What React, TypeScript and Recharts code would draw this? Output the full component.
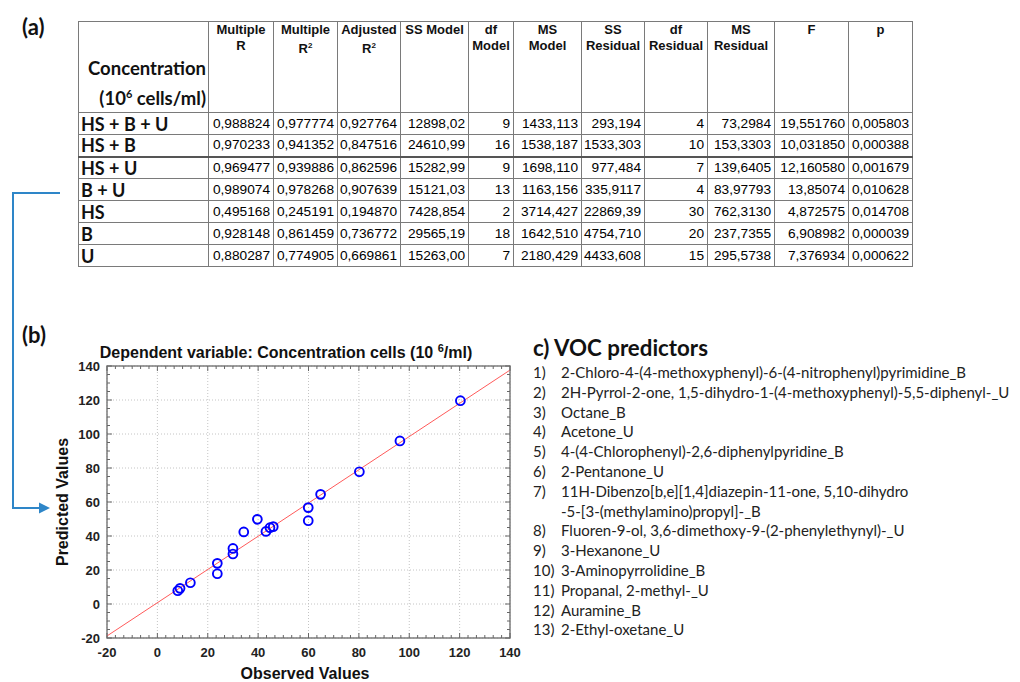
import { ScatterChart, Scatter, XAxis, YAxis, CartesianGrid, ReferenceArea } from 'recharts';

// table (a)
const rowLabels = ['HS + B + U', 'HS + B', 'HS + U', 'B + U', 'HS', 'B', 'U'];
const multipleR = ['0,988824', '0,970233', '0,969477', '0,989074', '0,495168', '0,928148', '0,880287'];
const multipleR2 = ['0,977774', '0,941352', '0,939886', '0,978268', '0,245191', '0,861459', '0,774905'];
const adjustedR2 = ['0,927764', '0,847516', '0,862596', '0,907639', '0,194870', '0,736772', '0,669861'];
const ssModel = ['12898,02', '24610,99', '15282,99', '15121,03', '7428,854', '29565,19', '15263,00'];
const dfModel = ['9', '16', '9', '13', '2', '18', '7'];
const msModel = ['1433,113', '1538,187', '1698,110', '1163,156', '3714,427', '1642,510', '2180,429'];
const ssResidual = ['293,194', '1533,303', '977,484', '335,9117', '22869,39', '4754,710', '4433,608'];
const dfResidual = ['4', '10', '7', '4', '30', '20', '15'];
const msResidual = ['73,2984', '153,3303', '139,6405', '83,97793', '762,3130', '237,7355', '295,5738'];
const fValues = ['19,551760', '10,031850', '12,160580', '13,85074', '4,872575', '6,908982', '7,376934'];
const pValues = ['0,005803', '0,000388', '0,001679', '0,010628', '0,014708', '0,000039', '0,000622'];

// scatter (b)
const observed = [8.1, 9.0, 13.1, 23.8, 23.8, 30.0, 30.0, 34.3, 39.7, 43.1, 44.7, 46.0, 59.9, 59.9, 64.8, 80.2, 96.3, 120.3];
const predicted = [7.8, 9.2, 12.5, 23.9, 17.8, 32.7, 29.4, 42.4, 49.8, 42.7, 44.9, 45.5, 56.7, 49.0, 64.5, 77.8, 95.9, 119.6];
const fitX = [-20, 140];
const fitY = [-18.8, 137.6];
const majorTicks = [-20, 0, 20, 40, 60, 80, 100, 120, 140];

// list (c)
const predictors = [
  ['1)', '2-Chloro-4-(4-methoxyphenyl)-6-(4-nitrophenyl)pyrimidine_B'],
  ['2)', '2H-Pyrrol-2-one, 1,5-dihydro-1-(4-methoxyphenyl)-5,5-diphenyl-_U'],
  ['3)', 'Octane_B'],
  ['4)', 'Acetone_U'],
  ['5)', '4-(4-Chlorophenyl)-2,6-diphenylpyridine_B'],
  ['6)', '2-Pentanone_U'],
  ['7)', '11H-Dibenzo[b,e][1,4]diazepin-11-one, 5,10-dihydro'],
  ['', '-5-[3-(methylamino)propyl]-_B'],
  ['8)', 'Fluoren-9-ol, 3,6-dimethoxy-9-(2-phenylethynyl)-_U'],
  ['9)', '3-Hexanone_U'],
  ['10)', '3-Aminopyrrolidine_B'],
  ['11)', 'Propanal, 2-methyl-_U'],
  ['12)', 'Auramine_B'],
  ['13)', '2-Ethyl-oxetane_U'],
];

const colWidths = [130, 65, 64, 63, 68, 45, 68, 63, 63, 67, 74, 64];
const columns = [multipleR, multipleR2, adjustedR2, ssModel, dfModel, msModel, ssResidual, dfResidual, msResidual, fValues, pValues];
const headers = [
  ['Multiple', 'R'],
  ['Multiple', 'R2'],
  ['Adjusted', 'R2'],
  ['SS Model', ''],
  ['df', 'Model'],
  ['MS', 'Model'],
  ['SS', 'Residual'],
  ['df', 'Residual'],
  ['MS', 'Residual'],
  ['F', ''],
  ['p', ''],
];

const ARIAL = '"Liberation Sans", Arial, sans-serif';
const CALIBRI = 'Lato, "Noto Sans", sans-serif';
const PLOT_W = 403;
const PLOT_H = 272;

const xTicks = Array.from({ length: 49 }, (_, i) => -20 + (i * 20) / 6);
const yTicks = Array.from({ length: 33 }, (_, i) => -20 + i * 5);
const isMajor = (v: number) => Math.abs(v / 20 - Math.round(v / 20)) < 1e-6;

const points = observed.map((x, i) => ({ x, y: predicted[i] }));
const fitLine = fitX.map((x, i) => ({ x, y: fitY[i] }));

const XTick = ({ x, y, payload }: any) => {
  const v = payload.value as number;
  const major = isMajor(v);
  const len = major ? 5 : 3;
  return (
    <g>
      <line x1={x} x2={x} y1={y} y2={y - len} stroke="#666" />
      <line x1={x} x2={x} y1={y - PLOT_H} y2={y - PLOT_H + len} stroke="#666" />
      {major && (
        <text x={x} y={y + 14} textAnchor="middle" dominantBaseline="central" fontFamily={ARIAL} fontWeight="bold" fontSize={13} fill="#222">
          {Math.round(v)}
        </text>
      )}
    </g>
  );
};

const YTick = ({ x, y, payload }: any) => {
  const v = payload.value as number;
  const major = isMajor(v);
  const len = major ? 5 : 3;
  return (
    <g>
      <line x1={x} x2={x + len} y1={y} y2={y} stroke="#666" />
      <line x1={x + PLOT_W} x2={x + PLOT_W - len} y1={y} y2={y} stroke="#666" />
      {major && (
        <text x={x - 7} y={y} textAnchor="end" dominantBaseline="central" fontFamily={ARIAL} fontWeight="bold" fontSize={13} fill="#222">
          {Math.round(v)}
        </text>
      )}
    </g>
  );
};

const Ring = ({ cx, cy }: any) => <circle cx={cx} cy={cy} r={4.4} fill="none" stroke="#0000ff" strokeWidth={1.9} />;

const cellBorder = '1px solid #7a7a7a';

function StatsTable() {
  return (
    <table
      style={{
        position: 'absolute',
        left: 78,
        top: 21,
        width: 834,
        borderCollapse: 'collapse',
        tableLayout: 'fixed',
        border: cellBorder,
      }}
    >
      <colgroup>
        {colWidths.map((w, i) => (
          <col key={i} style={{ width: w }} />
        ))}
      </colgroup>
      <tbody>
        <tr style={{ height: 91 }}>
          <td
            style={{
              border: cellBorder,
              verticalAlign: 'bottom',
              textAlign: 'right',
              padding: '0 2px 1px 0',
              fontFamily: CALIBRI,
              fontWeight: 'bold',
              fontSize: 18.5,
              lineHeight: '26px',
              whiteSpace: 'nowrap',
            }}
          >
            Concentration
            <br />
            (10<sup style={{ fontSize: 11 }}>6</sup> cells/ml)
          </td>
          {headers.map(([a, b], i) => (
            <td
              key={i}
              style={{
                border: cellBorder,
                verticalAlign: 'top',
                textAlign: 'center',
                padding: 0,
                fontFamily: ARIAL,
                fontWeight: 'bold',
                fontSize: 13,
                lineHeight: '16px',
              }}
            >
              {a}
              <br />
              {b === 'R2' ? (
                <>
                  R<sup style={{ fontSize: 8 }}>2</sup>
                </>
              ) : (
                b
              )}
            </td>
          ))}
        </tr>
        {rowLabels.map((label, r) => (
          <tr key={label} style={{ height: 22 }}>
            <td
              style={{
                border: cellBorder,
                borderBottom: r === 1 ? '2px solid #555' : cellBorder,
                padding: '0 0 0 2px',
                fontFamily: CALIBRI,
                fontWeight: 'bold',
                fontSize: 18,
                lineHeight: '20px',
                whiteSpace: 'nowrap',
              }}
            >
              {label}
            </td>
            {columns.map((col, c) => (
              <td
                key={c}
                style={{
                  border: cellBorder,
                  borderBottom: r === 1 ? '2px solid #555' : cellBorder,
                  padding: '0 3px 0 0',
                  textAlign: 'right',
                  fontFamily: ARIAL,
                  fontSize: 13.7,
                  lineHeight: '20px',
                  whiteSpace: 'nowrap',
                  color: '#000',
                }}
              >
                {col[r]}
              </td>
            ))}
          </tr>
        ))}
      </tbody>
    </table>
  );
}

export default function App() {
  return (
    <div style={{ position: 'absolute', left: 0, top: 0, width: 1020, height: 682, background: '#fff', color: '#111', overflow: 'hidden' }}>
      <div style={{ position: 'absolute', left: 22, top: 12, fontFamily: CALIBRI, fontWeight: 'bold', fontSize: 22, lineHeight: '30px' }}>(a)</div>
      <StatsTable />

      <svg width={1020} height={682} style={{ position: 'absolute', left: 0, top: 0, pointerEvents: 'none' }}>
        <path d="M60 193 H13 V508 H42" fill="none" stroke="#2e86c8" strokeWidth={2} />
        <polygon points="39,502.5 50,508 39,513.5" fill="#2e86c8" />
      </svg>

      <div style={{ position: 'absolute', left: 22, top: 320, fontFamily: CALIBRI, fontWeight: 'bold', fontSize: 22, lineHeight: '30px' }}>(b)</div>
      <div
        style={{
          position: 'absolute',
          left: 286,
          top: 339,
          transform: 'translateX(-50%)',
          whiteSpace: 'nowrap',
          fontFamily: ARIAL,
          fontWeight: 'bold',
          fontSize: 16,
          lineHeight: '19px',
        }}
      >
        Dependent variable: Concentration cells (10 <sup style={{ fontSize: 11 }}>6</sup>/ml)
      </div>

      <div style={{ position: 'absolute', left: 0, top: 330 }}>
        <ScatterChart width={530} height={352} margin={{ top: 36, right: 20, bottom: 0, left: 47 }}>
          <CartesianGrid stroke="#c4c4c4" strokeDasharray="1 2" horizontalValues={majorTicks} verticalValues={majorTicks} />
          <XAxis
            type="number"
            dataKey="x"
            domain={[-20, 140]}
            ticks={xTicks}
            interval={0}
            tick={<XTick />}
            tickLine={false}
            tickSize={0}
            tickMargin={0}
            axisLine={false}
            height={44}
            allowDataOverflow
          />
          <YAxis
            type="number"
            dataKey="y"
            domain={[-20, 140]}
            ticks={yTicks}
            interval={0}
            tick={<YTick />}
            tickLine={false}
            tickSize={0}
            tickMargin={0}
            axisLine={false}
            width={60}
            allowDataOverflow
          />
          <ReferenceArea x1={-20} x2={140} y1={-20} y2={140} fill="none" stroke="#7d7d7d" strokeWidth={1.5} />
          <Scatter
            data={fitLine}
            line={{ stroke: '#ff5a5a', strokeWidth: 1 }}
            shape={() => <g />}
            isAnimationActive={false}
            legendType="none"
          />
          <Scatter data={points} shape={<Ring />} isAnimationActive={false} />
        </ScatterChart>
      </div>

      <div
        style={{
          position: 'absolute',
          left: 305,
          top: 664,
          transform: 'translateX(-50%)',
          whiteSpace: 'nowrap',
          fontFamily: ARIAL,
          fontWeight: 'bold',
          fontSize: 16,
          lineHeight: '19px',
        }}
      >
        Observed Values
      </div>
      <div
        style={{
          position: 'absolute',
          left: 62,
          top: 502,
          transform: 'translate(-50%, -50%) rotate(-90deg)',
          whiteSpace: 'nowrap',
          fontFamily: ARIAL,
          fontWeight: 'bold',
          fontSize: 16,
          lineHeight: '19px',
        }}
      >
        Predicted Values
      </div>

      <div style={{ position: 'absolute', left: 533, top: 333, fontFamily: CALIBRI, fontWeight: 'bold', fontSize: 22.3, lineHeight: '30px', whiteSpace: 'nowrap' }}>
        c) VOC predictors
      </div>
      {predictors.map(([num, text], i) => (
        <div
          key={i}
          style={{
            position: 'absolute',
            left: 533,
            top: 362 + i * 19.8,
            height: 20,
            fontFamily: CALIBRI,
            fontSize: 15,
            lineHeight: '20px',
            color: '#222',
            whiteSpace: 'nowrap',
          }}
        >
          <span style={{ position: 'absolute', left: 0 }}>{num}</span>
          <span style={{ position: 'absolute', left: 28 }}>{text}</span>
        </div>
      ))}
    </div>
  );
}
